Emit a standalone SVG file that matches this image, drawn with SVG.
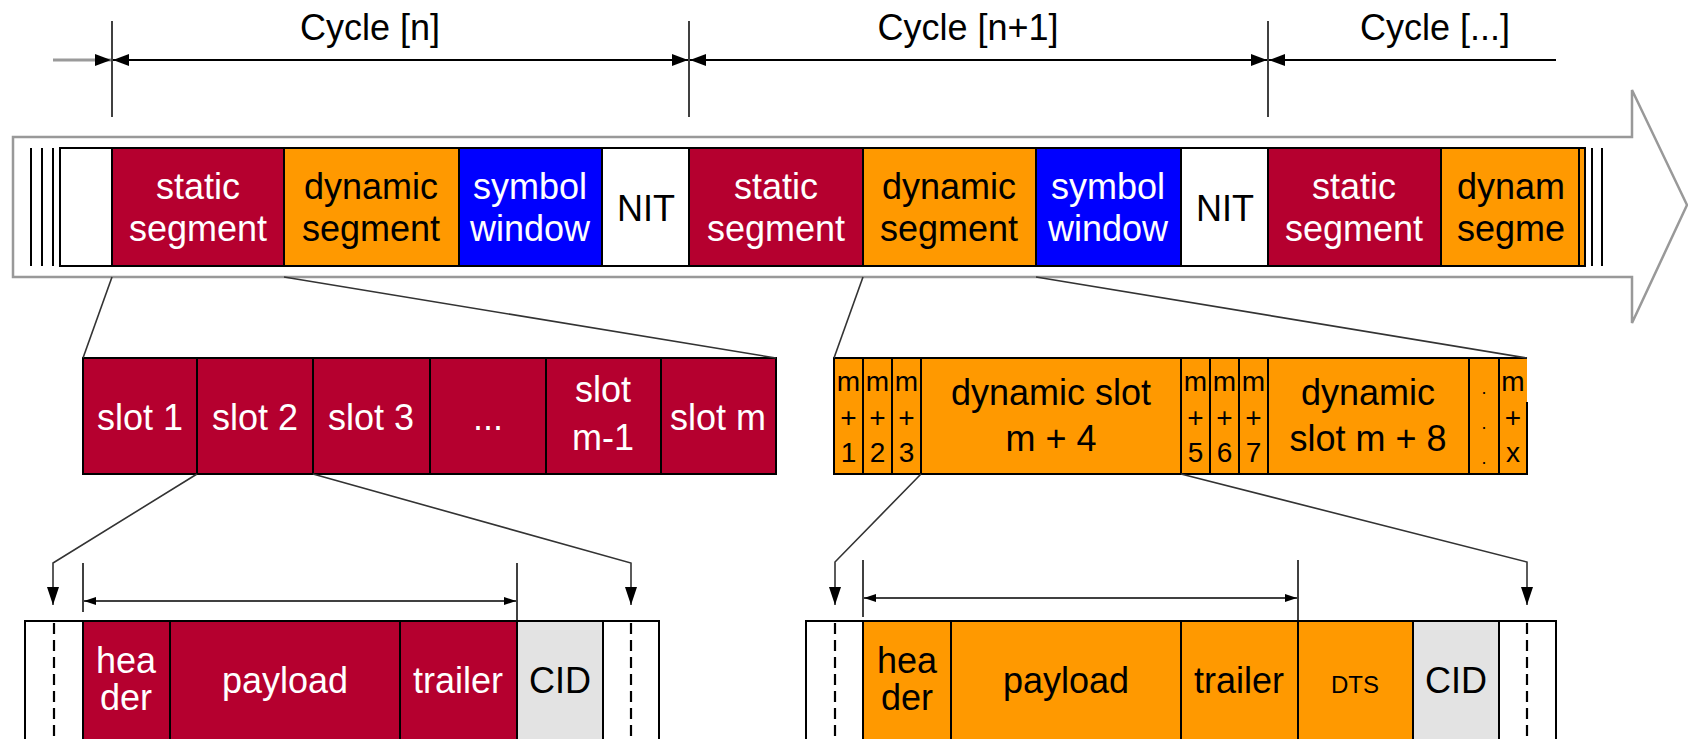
<svg xmlns="http://www.w3.org/2000/svg" width="1688" height="739" viewBox="0 0 1688 739">
  <style>
    text { font-family: "Liberation Sans", Arial, sans-serif; font-size: 36px; text-anchor: middle; }
    .w { fill: #ffffff; }
    .k { fill: #000000; }
    .sm { font-size: 28px; }
    .dts { font-size: 24px; }
    .cell { stroke: #000; stroke-width: 2; }
    .st { fill: #b5002f; }
    .dy { fill: #ff9900; }
    .sy { fill: #0000ff; }
    .wh { fill: #ffffff; }
    .cid { fill: #e3e3e3; }
    .ln { fill: none; stroke: #000; stroke-width: 2; }
    .tk { fill: none; stroke: #000; stroke-width: 1.5; }
    .con { fill: none; stroke: #333; stroke-width: 1.6; }
    .dash { fill: none; stroke: #000; stroke-width: 2.2; stroke-dasharray: 11 6; }
  </style>
  <defs>
    <marker id="ah" viewBox="0 0 16 12" refX="16" refY="6" markerWidth="16" markerHeight="12" markerUnits="userSpaceOnUse" orient="auto-start-reverse">
      <path d="M0,0 L16,6 L0,12 z" fill="#000"/>
    </marker>
    <marker id="ahs" viewBox="0 0 12 8" refX="12" refY="4" markerWidth="12" markerHeight="8" markerUnits="userSpaceOnUse" orient="auto-start-reverse">
      <path d="M0,0 L12,4 L0,8 z" fill="#000"/>
    </marker>
    <marker id="ahd" viewBox="0 0 18 12" refX="18" refY="6" markerWidth="18" markerHeight="12" markerUnits="userSpaceOnUse" orient="auto">
      <path d="M0,0 L18,6 L0,12 z" fill="#000"/>
    </marker>
  </defs>

  <!-- cycle dimensioning -->
  <g id="cycles">
    <line class="tk" x1="112" y1="21" x2="112" y2="117"/>
    <line class="tk" x1="689" y1="21" x2="689" y2="117"/>
    <line class="tk" x1="1268" y1="21" x2="1268" y2="117"/>
    <line x1="53" y1="60" x2="111" y2="60" stroke="#9a9a9a" stroke-width="3" marker-end="url(#ah)"/>
    <line class="ln" x1="113" y1="60" x2="688" y2="60" marker-start="url(#ah)" marker-end="url(#ah)"/>
    <line class="ln" x1="690" y1="60" x2="1267" y2="60" marker-start="url(#ah)" marker-end="url(#ah)"/>
    <line class="ln" x1="1269" y1="60" x2="1556" y2="60" marker-start="url(#ah)"/>
    <text class="k" x="370" y="40">Cycle [n]</text>
    <text class="k" x="968" y="40">Cycle [n+1]</text>
    <text class="k" x="1435" y="40">Cycle [...]</text>
  </g>

  <!-- time axis arrow -->
  <g id="timeline">
    <polygon points="13,137 1632,137 1632,90 1687,205 1632,323 1632,277 13,277" fill="#fff" stroke="#999" stroke-width="2.5"/>
    <line class="ln" x1="31" y1="148" x2="31" y2="266"/>
    <line class="ln" x1="42" y1="148" x2="42" y2="266"/>
    <line class="ln" x1="53" y1="148" x2="53" y2="266"/>
    <line class="ln" x1="1592" y1="148" x2="1592" y2="266"/>
    <line class="ln" x1="1602" y1="148" x2="1602" y2="266"/>
  </g>

  <g id="band">
    <rect class="cell wh" x="60" y="148" width="52" height="118"/>
    <rect class="cell st" x="112" y="148" width="172" height="118"/>
    <rect class="cell dy" x="284" y="148" width="175" height="118"/>
    <rect class="cell sy" x="459" y="148" width="143" height="118"/>
    <rect class="cell wh" x="602" y="148" width="87" height="118"/>
    <rect class="cell st" x="689" y="148" width="174" height="118"/>
    <rect class="cell dy" x="863" y="148" width="173" height="118"/>
    <rect class="cell sy" x="1036" y="148" width="145" height="118"/>
    <rect class="cell wh" x="1181" y="148" width="87" height="118"/>
    <rect class="cell st" x="1268" y="148" width="173" height="118"/>
    <rect class="cell dy" x="1441" y="148" width="138" height="118"/>
    <rect class="cell dy" x="1579" y="148" width="6" height="118"/>

    <text class="w" x="198" y="199">static</text><text class="w" x="198" y="241">segment</text>
    <text class="k" x="371" y="199">dynamic</text><text class="k" x="371" y="241">segment</text>
    <text class="w" x="530" y="199">symbol</text><text class="w" x="530" y="241">window</text>
    <text class="k" x="646" y="221">NIT</text>
    <text class="w" x="776" y="199">static</text><text class="w" x="776" y="241">segment</text>
    <text class="k" x="949" y="199">dynamic</text><text class="k" x="949" y="241">segment</text>
    <text class="w" x="1108" y="199">symbol</text><text class="w" x="1108" y="241">window</text>
    <text class="k" x="1225" y="221">NIT</text>
    <text class="w" x="1354" y="199">static</text><text class="w" x="1354" y="241">segment</text>
    <text class="k" x="1511" y="199">dynam</text><text class="k" x="1511" y="241">segme</text>
  </g>

  <!-- static segment slots -->
  <g id="static-slots">
    <rect class="cell st" x="83" y="358" width="114" height="116"/>
    <rect class="cell st" x="197" y="358" width="116" height="116"/>
    <rect class="cell st" x="313" y="358" width="117" height="116"/>
    <rect class="cell st" x="430" y="358" width="116" height="116"/>
    <rect class="cell st" x="546" y="358" width="115" height="116"/>
    <rect class="cell st" x="661" y="358" width="115" height="116"/>
    <text class="w" x="140" y="430">slot 1</text>
    <text class="w" x="255" y="430">slot 2</text>
    <text class="w" x="371" y="430">slot 3</text>
    <text class="w" x="488" y="430">...</text>
    <text class="w" x="603" y="402">slot</text><text class="w" x="603" y="450">m-1</text>
    <text class="w" x="718" y="430">slot m</text>
  </g>

  <!-- dynamic segment slots -->
  <g id="dynamic-slots">
    <rect class="dy" x="834" y="358" width="693" height="116"/>
    <rect class="cell dy" x="834" y="358" width="29" height="116"/>
    <rect class="cell dy" x="863" y="358" width="29" height="116"/>
    <rect class="cell dy" x="892" y="358" width="29" height="116"/>
    <rect class="cell dy" x="921" y="358" width="260" height="116"/>
    <rect class="cell dy" x="1181" y="358" width="29" height="116"/>
    <rect class="cell dy" x="1210" y="358" width="29" height="116"/>
    <rect class="cell dy" x="1239" y="358" width="29" height="116"/>
    <rect class="cell dy" x="1268" y="358" width="201" height="116"/>
    <rect class="cell dy" x="1469" y="358" width="30" height="116"/>
    <path d="M1499,358 H1527 M1499,358 V474 H1527 V402" class="ln"/>

    <text class="k sm" x="848.5" y="391">m</text><text class="k sm" x="848.5" y="427">+</text><text class="k sm" x="848.5" y="462">1</text>
    <text class="k sm" x="877.5" y="391">m</text><text class="k sm" x="877.5" y="427">+</text><text class="k sm" x="877.5" y="462">2</text>
    <text class="k sm" x="906.5" y="391">m</text><text class="k sm" x="906.5" y="427">+</text><text class="k sm" x="906.5" y="462">3</text>
    <text class="k" x="1051" y="405">dynamic slot</text><text class="k" x="1051" y="451">m + 4</text>
    <text class="k sm" x="1195.5" y="391">m</text><text class="k sm" x="1195.5" y="427">+</text><text class="k sm" x="1195.5" y="462">5</text>
    <text class="k sm" x="1224.5" y="391">m</text><text class="k sm" x="1224.5" y="427">+</text><text class="k sm" x="1224.5" y="462">6</text>
    <text class="k sm" x="1253.5" y="391">m</text><text class="k sm" x="1253.5" y="427">+</text><text class="k sm" x="1253.5" y="462">7</text>
    <text class="k" x="1368" y="405">dynamic</text><text class="k" x="1368" y="451">slot m + 8</text>
    <text class="k" x="1484" y="394" style="font-size:18px">.</text><text class="k" x="1484" y="429" style="font-size:18px">.</text><text class="k" x="1484" y="464" style="font-size:18px">.</text>
    <text class="k sm" x="1513" y="391">m</text><text class="k sm" x="1513" y="427">+</text><text class="k sm" x="1513" y="462">x</text>
  </g>

  <!-- static frame -->
  <g id="static-frame">
    <rect class="cell wh" x="25" y="621" width="58" height="130"/>
    <rect class="cell st" x="83" y="621" width="87" height="130"/>
    <rect class="cell st" x="170" y="621" width="230" height="130"/>
    <rect class="cell st" x="400" y="621" width="117" height="130"/>
    <rect class="cell cid" x="517" y="621" width="86" height="130"/>
    <rect class="cell wh" x="603" y="621" width="56" height="130"/>
    <line class="dash" x1="54" y1="623" x2="54" y2="739"/>
    <line class="dash" x1="631" y1="623" x2="631" y2="739"/>
    <text class="w" x="126" y="673">hea</text><text class="w" x="126" y="710">der</text>
    <text class="w" x="285" y="693">payload</text>
    <text class="w" x="458" y="693">trailer</text>
    <text class="k" x="560" y="693">CID</text>
    <line class="tk" x1="83" y1="563" x2="83" y2="612"/>
    <line class="tk" x1="517" y1="563" x2="517" y2="621"/>
    <line class="tk" x1="84" y1="601" x2="516" y2="601" marker-start="url(#ahs)" marker-end="url(#ahs)"/>
  </g>

  <!-- dynamic frame -->
  <g id="dynamic-frame">
    <rect class="cell wh" x="806" y="621" width="57" height="130"/>
    <rect class="cell dy" x="863" y="621" width="88" height="130"/>
    <rect class="cell dy" x="951" y="621" width="230" height="130"/>
    <rect class="cell dy" x="1181" y="621" width="117" height="130"/>
    <rect class="cell dy" x="1298" y="621" width="115" height="130"/>
    <rect class="cell cid" x="1413" y="621" width="86" height="130"/>
    <rect class="cell wh" x="1499" y="621" width="57" height="130"/>
    <line class="dash" x1="835" y1="623" x2="835" y2="739"/>
    <line class="dash" x1="1527" y1="623" x2="1527" y2="739"/>
    <text class="k" x="907" y="673">hea</text><text class="k" x="907" y="710">der</text>
    <text class="k" x="1066" y="693">payload</text>
    <text class="k" x="1239" y="693">trailer</text>
    <text class="k dts" x="1355" y="693">DTS</text>
    <text class="k" x="1456" y="693">CID</text>
    <line class="tk" x1="863" y1="560" x2="863" y2="617"/>
    <line class="tk" x1="1298" y1="560" x2="1298" y2="621"/>
    <line class="tk" x1="864" y1="598" x2="1297" y2="598" marker-start="url(#ahs)" marker-end="url(#ahs)"/>
  </g>

  <!-- zoom-in connectors -->
  <g id="connectors">
    <line class="con" x1="112" y1="277" x2="83" y2="358"/>
    <line class="con" x1="284" y1="277" x2="776" y2="358"/>
    <line class="con" x1="863" y1="277" x2="834" y2="358"/>
    <line class="con" x1="1036" y1="277" x2="1527" y2="358"/>
    <polyline class="con" points="197,474 53,563 53,605" marker-end="url(#ahd)"/>
    <polyline class="con" points="313,474 631,563 631,605" marker-end="url(#ahd)"/>
    <polyline class="con" points="921,474 835,562 835,605" marker-end="url(#ahd)"/>
    <polyline class="con" points="1181,474 1527,562 1527,605" marker-end="url(#ahd)"/>
  </g>
</svg>
